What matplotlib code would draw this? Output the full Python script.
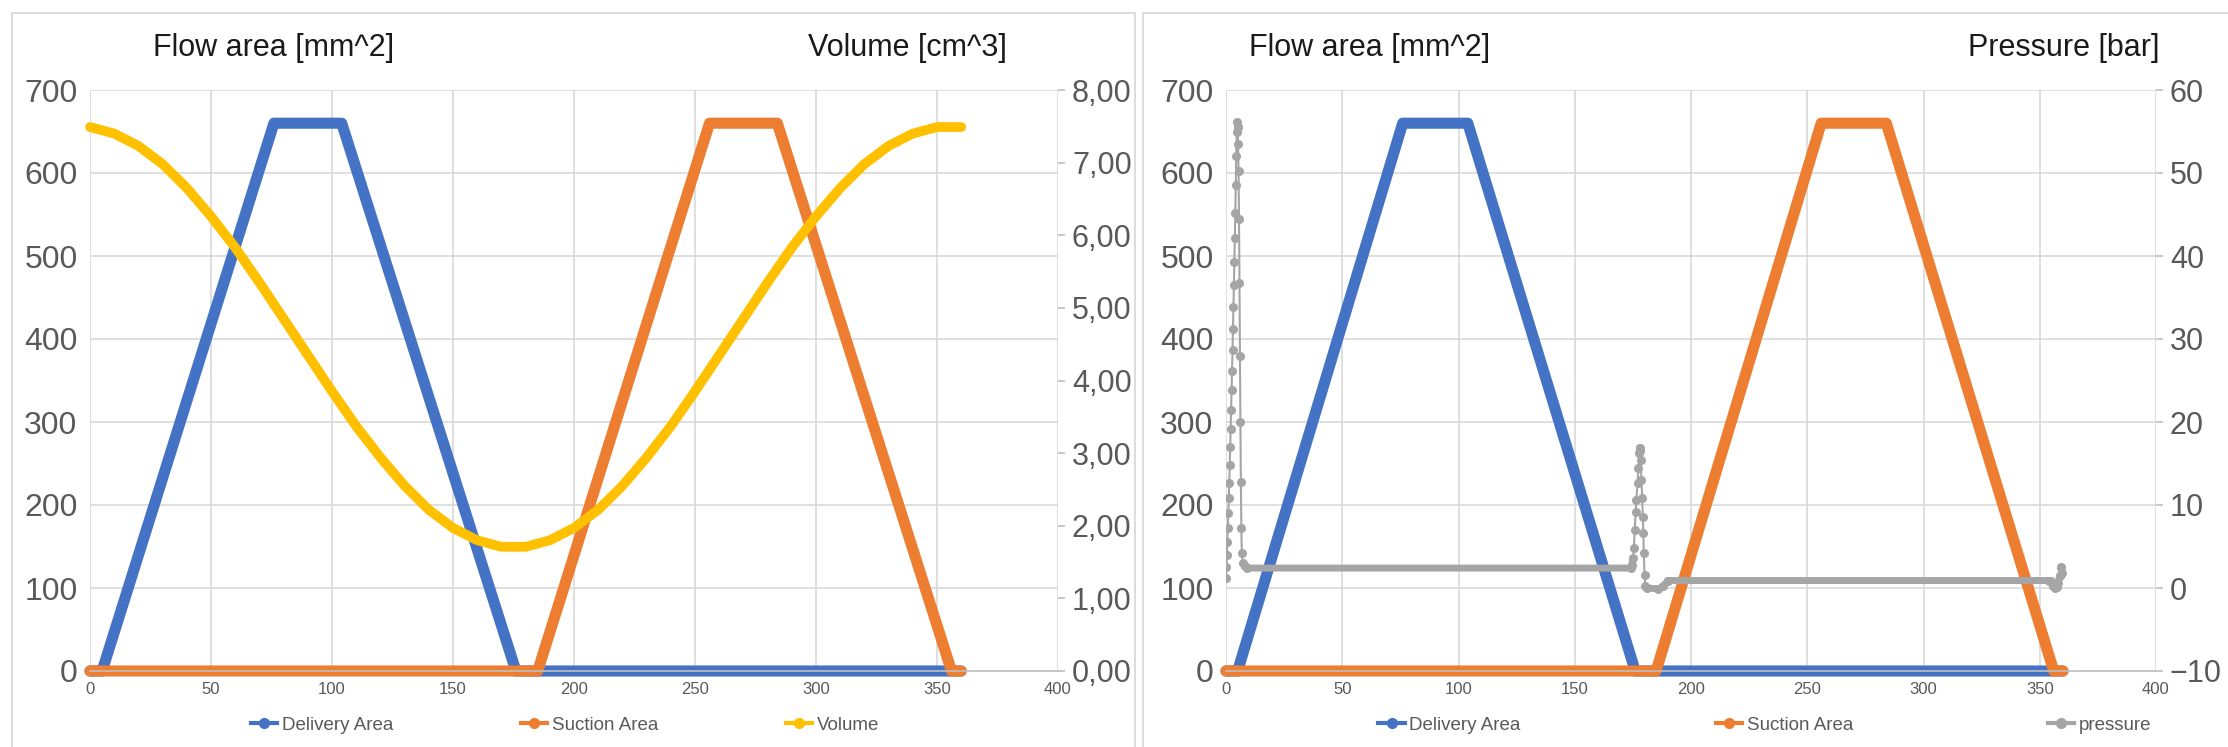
import numpy as np
import matplotlib
matplotlib.use("Agg")
import matplotlib.pyplot as plt
from matplotlib import font_manager
from matplotlib.lines import Line2D
from matplotlib.patches import Rectangle

# ---- data ----
delivery_angle = [0, 5, 76, 104, 176, 360]
delivery_area = [0, 0, 660, 660, 0, 0]

suction_angle = [0, 185, 256, 284, 356, 360]
suction_area = [0, 0, 660, 660, 0, 0]

volume_angle = list(range(0, 361, 10))
volume_cm3 = [7.49, 7.40, 7.23, 6.98, 6.65, 6.26, 5.83, 5.35, 4.85, 4.35,
              3.85, 3.37, 2.94, 2.55, 2.22, 1.97, 1.80, 1.71, 1.71, 1.80,
              1.97, 2.22, 2.55, 2.94, 3.37, 3.85, 4.35, 4.85, 5.35, 5.83,
              6.26, 6.65, 6.98, 7.23, 7.40, 7.49, 7.49]

pressure_angle = [0.0, 0.2, 0.4, 0.6, 0.8, 1.0, 1.2, 1.4, 1.6, 1.8, 2.0, 2.2,
                  2.4, 2.6, 2.8, 3.0, 3.2, 3.4, 3.6, 3.8, 4.0, 4.2, 4.4, 4.6,
                  4.8, 5.0, 5.2, 5.4, 5.6, 5.8, 6.0, 6.2, 6.4, 6.6, 6.8, 7.2,
                  8.0, 9.0, 174.0, 174.6, 175.0, 175.4, 175.8, 176.2, 176.5,
                  177.0, 177.4, 177.7, 177.9, 178.2, 178.4, 178.7, 179.0,
                  179.3, 179.5, 179.7, 180.0, 180.4, 181.0, 186.0, 188.0,
                  190.0, 354.0, 355.0, 355.5, 356.5, 357.5, 358.0, 358.5,
                  359.0, 359.5]
pressure_bar = [1.2, 2.5, 4.0, 5.5, 7.2, 9.0, 10.8, 12.7, 14.8, 17.0, 19.2, 21.5,
                23.8, 26.2, 28.7, 31.2, 33.8, 36.5, 39.3, 42.2, 45.2, 48.5, 52.0, 55.0,
                56.2, 55.5, 53.5, 50.2, 44.5, 36.7, 28.0, 20.0, 12.8, 7.2, 4.2, 3.0,
                2.6, 2.4, 2.4, 2.8, 3.6, 4.8, 7.0, 9.2, 10.6,
                12.7, 14.5, 16.3, 16.9, 16.5, 15.4, 13.0, 10.8,
                8.6, 6.6, 4.2, 1.6, 0.2, 0.0, -0.1, 0.2,
                0.9, 0.9, 0.8, 0.2, 0.0, 0.1, 0.6, 1.5,
                2.5, 1.8]

x_ticks = list(range(0, 401, 50))
area_ticks = list(range(0, 701, 100))
volume_ticks = list(range(0, 9))
pressure_ticks = list(range(-10, 61, 10))

BLUE = "#4472C4"
ORANGE = "#ED7D31"
YELLOW = "#FFC000"
GRAY = "#A5A5A5"
GRID = "#D9D9D9"
LABEL = "#595959"

names = {f.name for f in font_manager.fontManager.ttflist}
FONT = "Liberation Sans Narrow" if "Liberation Sans Narrow" in names else "Liberation Sans"
plt.rcParams["font.family"] = [FONT, "DejaVu Sans"]

W, H = 2228, 747
fig = plt.figure(figsize=(W / 100, H / 100), dpi=100)


def box(x0, x1, y_top, y_bot):
    return [x0 / W, 1 - y_bot / H, (x1 - x0) / W, (y_bot - y_top) / H]


# panel frames
fig.patches.append(Rectangle((12 / W, -0.05), (1135 - 12) / W, 1.05 - 13 / H,
                             transform=fig.transFigure, fill=False, ec=GRID, lw=1.3))
fig.patches.append(Rectangle((1143 / W, -0.05), (2240 - 1143) / W, 1.05 - 13 / H,
                             transform=fig.transFigure, fill=False, ec=GRID, lw=1.3))


def style_area_axes(ax):
    ax.set_xlim(0, 400)
    ax.set_ylim(0, 700)
    ax.set_xticks(x_ticks)
    ax.set_yticks(area_ticks)
    ax.grid(color=GRID, lw=1.2)
    ax.set_axisbelow(True)
    for s in ["top", "right", "left"]:
        ax.spines[s].set_visible(False)
    ax.spines["bottom"].set_color("#BFBFBF")
    ax.spines["bottom"].set_linewidth(1.2)
    ax.tick_params(axis="both", length=0, colors=LABEL)
    ax.tick_params(axis="x", labelsize=12, pad=8)
    ax.tick_params(axis="y", labelsize=23, pad=9)


def style_right_axes(ax):
    for s in ax.spines.values():
        s.set_visible(False)
    ax.tick_params(axis="y", length=5, width=1.2, color="#BFBFBF",
                   labelcolor=LABEL, labelsize=22, pad=5)


def area_lines(ax):
    ax.plot(delivery_angle, delivery_area, color=BLUE, lw=8,
            solid_capstyle="round", solid_joinstyle="round", clip_on=False)
    ax.plot(suction_angle, suction_area, color=ORANGE, lw=8,
            solid_capstyle="round", solid_joinstyle="round", clip_on=False)


def legend_handle(c):
    return Line2D([], [], color=c, lw=3, marker="o", ms=7)


# ---- left chart: flow area + volume ----
ax1 = fig.add_axes(box(90, 1058, 90, 671))
style_area_axes(ax1)
area_lines(ax1)

ax2 = ax1.twinx()
ax2.plot(volume_angle, volume_cm3, color=YELLOW, lw=7,
         solid_capstyle="round", solid_joinstyle="round", clip_on=False)
ax2.set_ylim(0, 8)
ax2.set_yticks(volume_ticks)
ax2.set_yticklabels([f"{v:.2f}".replace(".", ",") for v in volume_ticks])
style_right_axes(ax2)

fig.text(153 / W, 1 - 48 / H, "Flow area [mm^2]", fontsize=22, va="center", color="#1a1a1a")
fig.text(808 / W, 1 - 48 / H, "Volume [cm^3]", fontsize=22, va="center", color="#1a1a1a")

fig.legend([legend_handle(BLUE), legend_handle(ORANGE), legend_handle(YELLOW)],
           ["Delivery Area", "Suction Area", "Volume"],
           loc="center", bbox_to_anchor=(565 / W, 1 - 725 / H), ncol=3,
           frameon=False, fontsize=13.5, labelcolor=LABEL, handlelength=1.4,
           handletextpad=0.25, columnspacing=6.8)

# ---- right chart: flow area + pressure ----
ax3 = fig.add_axes(box(1226, 2156, 90, 671))
style_area_axes(ax3)
area_lines(ax3)

ax4 = ax3.twinx()
pa = np.array(pressure_angle)
pv = np.array(pressure_bar)
# dense samples in the flat parts show as a solid band
bx, by = [], []
for i in np.where(np.abs(np.diff(pv)) < 1.0)[0]:
    bx += [pa[i], pa[i + 1], np.nan]
    by += [pv[i], pv[i + 1], np.nan]
ax4.plot(bx, by, color=GRAY, lw=5, solid_capstyle="round")
ax4.plot(pa, pv, color=GRAY, lw=1.5, marker="o", ms=5.5)
ax4.set_ylim(-10, 60)
ax4.set_yticks(pressure_ticks)
style_right_axes(ax4)

fig.text(1249 / W, 1 - 48 / H, "Flow area [mm^2]", fontsize=22, va="center", color="#1a1a1a")
fig.text(1968 / W, 1 - 48 / H, "Pressure [bar]", fontsize=22, va="center", color="#1a1a1a")

fig.legend([legend_handle(BLUE), legend_handle(ORANGE), legend_handle(GRAY)],
           ["Delivery Area", "Suction Area", "pressure"],
           loc="center", bbox_to_anchor=(1765 / W, 1 - 725 / H), ncol=3,
           frameon=False, fontsize=13.5, labelcolor=LABEL, handlelength=1.4,
           handletextpad=0.25, columnspacing=10.4)

fig.savefig("out.png", dpi=100)
